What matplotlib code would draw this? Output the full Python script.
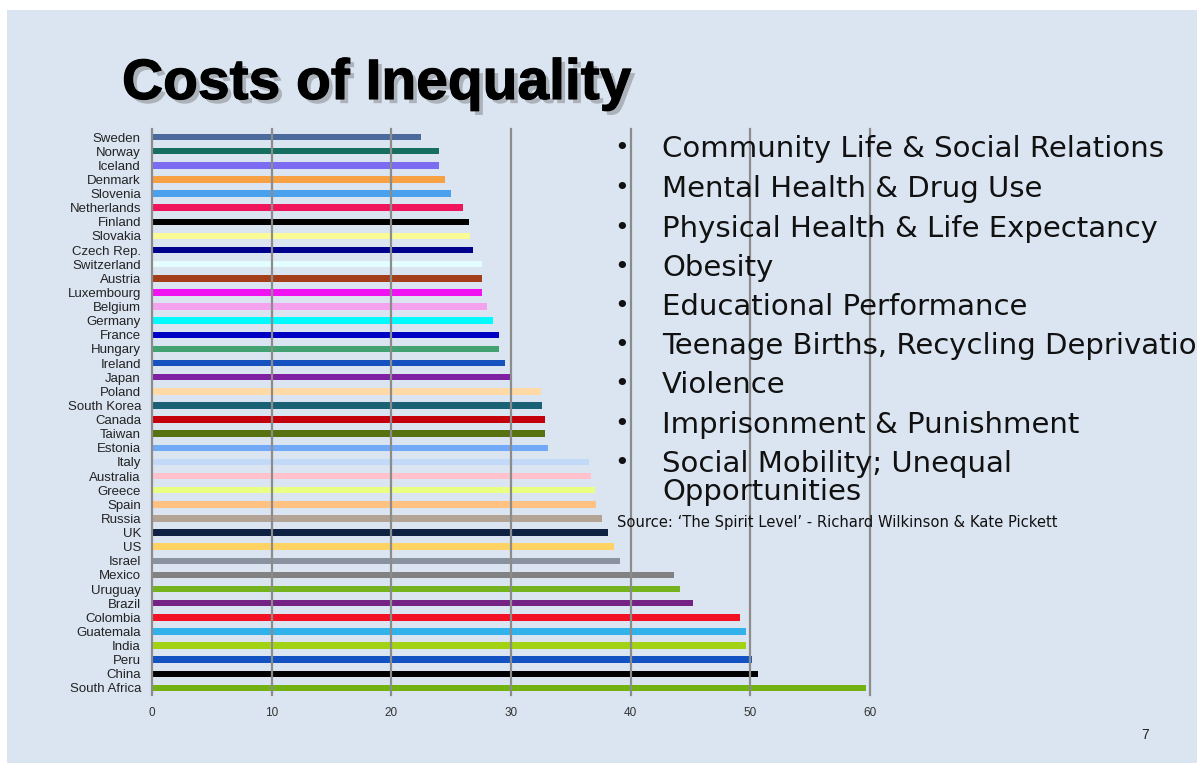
#!/usr/bin/env python3
"""Slide: Costs of Inequality - income inequality (Gini) bars with bullet list."""
import matplotlib

matplotlib.use("Agg")
import matplotlib.pyplot as plt  # noqa: E402
from matplotlib import patheffects  # noqa: E402
from matplotlib.patches import Rectangle  # noqa: E402

COUNTRIES = [
    "Sweden", "Norway", "Iceland", "Denmark", "Slovenia", "Netherlands",
    "Finland", "Slovakia", "Czech Rep.", "Switzerland", "Austria",
    "Luxembourg", "Belgium", "Germany", "France", "Hungary", "Ireland",
    "Japan", "Poland", "South Korea", "Canada", "Taiwan", "Estonia", "Italy",
    "Australia", "Greece", "Spain", "Russia", "UK", "US", "Israel", "Mexico",
    "Uruguay", "Brazil", "Colombia", "Guatemala", "India", "Peru", "China",
    "South Africa",
]
VALUES = [
    22.5, 24.0, 24.0, 24.5, 25.0, 26.0,
    26.5, 26.6, 26.8, 27.6, 27.6,
    27.6, 28.0, 28.5, 29.0, 29.0, 29.5,
    30.0, 32.5, 32.6, 32.8, 32.8, 33.1, 36.5,
    36.7, 37.0, 37.1, 37.6, 38.1, 38.6, 39.1, 43.6,
    44.1, 45.2, 49.1, 49.6, 49.6, 50.1, 50.6,
    59.7,
]
BAR_COLORS = [
    "#4a6b9b", "#156e5e", "#7b6cf2", "#f7a044", "#4aa2ef", "#f0145c",
    "#000000", "#fbfb96", "#00008e", "#e2feff", "#a3401a",
    "#f012f0", "#f5a2ee", "#00fbff", "#0000c4", "#42a272", "#1552c0",
    "#8020a2", "#ffd9a6", "#1a6175", "#c4000c", "#587212", "#72aaf8", "#c2d9f8",
    "#ffc2cc", "#e8ff82", "#ffc282", "#b3a395", "#102244", "#ffd264", "#8a92a2", "#828282",
    "#74b21e", "#742284", "#f21024", "#32b2ea", "#a2d214", "#1252c2", "#000000",
    "#72b212",
]
X_TICKS = [0, 10, 20, 30, 40, 50, 60]

BULLETS = [
    "Community Life & Social Relations",
    "Mental Health & Drug Use",
    "Physical Health & Life Expectancy",
    "Obesity",
    "Educational Performance",
    "Teenage Births, Recycling Deprivation",
    "Violence",
    "Imprisonment & Punishment",
    "Social Mobility; Unequal\nOpportunities",
]
SOURCE = "Source: \u2018The Spirit Level\u2019 - Richard Wilkinson & Kate Pickett"

W, H = 1197, 763
BG = "#dbe5f1"
GRID = "#8c8c8c"


def main() -> None:
    fig = plt.figure(figsize=(W / 100, H / 100), dpi=100, facecolor="white")
    fig.patches.append(Rectangle((7 / W, 0), 1, 1 - 10 / H, transform=fig.transFigure,
                                 facecolor=BG, edgecolor="none", zorder=-10))

    ax = fig.add_axes([152 / W, 1 - 695 / H, 718 / W, 566 / H])
    ax.set_zorder(1)
    ax.set_facecolor("none")
    ypos = list(range(len(COUNTRIES)))
    ax.barh(ypos, VALUES, height=0.46, color=BAR_COLORS, zorder=2)
    ax.set_xlim(0, 60)
    ax.set_ylim(len(COUNTRIES) - 0.5, -0.57)
    for x in X_TICKS[1:]:
        ax.axvline(x, color=GRID, lw=1.6, zorder=3, clip_on=False)
    for side in ("top", "right", "bottom"):
        ax.spines[side].set_visible(False)
    ax.spines["left"].set_color(GRID)
    ax.spines["left"].set_linewidth(1.6)
    ax.spines["left"].set_zorder(3)
    ax.set_yticks(ypos, COUNTRIES, fontsize=9.5, family="Liberation Sans", color="#222222")
    ax.set_xticks(X_TICKS, [str(t) for t in X_TICKS], fontsize=8.5,
                  family="Liberation Sans", color="#333333")
    ax.tick_params(axis="both", length=0)
    ax.tick_params(axis="y", pad=8)
    ax.tick_params(axis="x", pad=9)

    fig.text(122 / W, 1 - 84 / H, "Costs of Inequality", fontsize=41, fontweight="bold",
             family="Liberation Sans", va="center", ha="left", color="black", zorder=5,
             path_effects=[patheffects.SimplePatchShadow(offset=(3, -3), shadow_rgbFace="#666666",
                                                         alpha=0.4),
                           patheffects.Stroke(linewidth=0.8, foreground="black"),
                           patheffects.Normal()])

    line_y = [148, 188, 228, 267, 306, 345, 384, 424, 463]
    for y, label in zip(line_y, BULLETS):
        fig.text(622 / W, 1 - y / H, "\u2022", fontsize=18, family="DejaVu Sans",
                 va="center", ha="center", color="#111111", zorder=5)
        fig.text(662 / W, 1 - (y - 13) / H, label, fontsize=21, family="DejaVu Sans",
                 va="top", ha="left", color="#111111", linespacing=0.98, zorder=5)

    fig.text(617 / W, 1 - 522 / H, SOURCE, fontsize=10.6, family="DejaVu Sans",
             va="center", ha="left", color="#111111", zorder=5)
    fig.text(1145 / W, 1 - 735 / H, "7", fontsize=10, family="Liberation Sans",
             va="center", ha="center", color="#222222", zorder=5)

    fig.savefig("out.png", dpi=100, facecolor=fig.get_facecolor())


if __name__ == "__main__":
    main()
